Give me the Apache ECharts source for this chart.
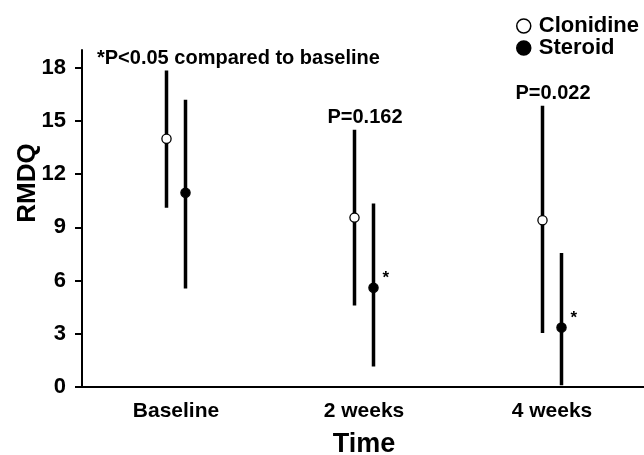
<!DOCTYPE html>
<html>
<head>
<meta charset="utf-8">
<script src="https://cdn.jsdelivr.net/npm/echarts@6/dist/echarts.min.js"></script>
<style>
html,body{margin:0;padding:0;background:#fff;}
#chart{width:644px;height:455px;}
</style>
</head>
<body>
<div id="chart"></div>
<script>
var categories = ['Baseline', '2 weeks', '4 weeks'];
var clonidineMean = [14.0, 9.55, 9.4];
var clonidineLow = [10.1, 4.6, 3.05];
var clonidineHigh = [17.85, 14.5, 15.85];
var steroidMean = [10.95, 5.6, 3.35];
var steroidLow = [5.55, 1.15, 0.1];
var steroidHigh = [16.2, 10.35, 7.55];
var steroidSig = ['', '*', '*'];
var pValues = ['', 'P=0.162', 'P=0.022'];
var yTicks = [0, 3, 6, 9, 12, 15, 18];

var FONT = '"Liberation Sans", Arial, sans-serif';

function makeData(mean, low, high, extra) {
  return categories.map(function (c, i) {
    return [i, mean[i], low[i], high[i], extra ? extra[i] : ''];
  });
}

function errorRender(offset, filled, labelMode) {
  return function (params, api) {
    var idx = api.value(0);
    var c = api.coord([idx, api.value(1)]);
    var lo = api.coord([idx, api.value(2)]);
    var hi = api.coord([idx, api.value(3)]);
    var x = c[0] + offset;
    var extra = api.value(4);
    var children = [
      { type: 'line', shape: { x1: x, y1: hi[1], x2: x, y2: lo[1] },
        style: { stroke: '#000', lineWidth: 3.5 } },
      { type: 'circle', shape: { cx: x, cy: c[1], r: 4.6 },
        style: { fill: filled ? '#000' : '#fff', stroke: '#000', lineWidth: 1.3 } }
    ];
    if (labelMode === 'sig' && extra) {
      children.push({ type: 'text', x: x + 9, y: c[1] - 9,
        style: { text: extra, font: 'bold 17px ' + FONT, fill: '#000', align: 'left', verticalAlign: 'middle' } });
    }
    if (labelMode === 'p' && extra) {
      children.push({ type: 'text', x: c[0] + 1, y: hi[1] - 12,
        style: { text: extra, font: 'bold 20px ' + FONT, fill: '#000', align: 'center', verticalAlign: 'middle' } });
    }
    return { type: 'group', children: children };
  };
}

var chart = echarts.init(document.getElementById('chart'), null, { renderer: 'canvas' });
chart.setOption({
  backgroundColor: '#fff',
  animation: false,
  grid: { left: 82, right: -2, top: 50, bottom: 68, containLabel: false, outerBoundsMode: 'none' },
  legend: {
    orient: 'vertical',
    left: 511, top: 10,
    itemWidth: 14, itemHeight: 14, itemGap: 0,
    textStyle: { fontFamily: FONT, fontWeight: 'bold', fontSize: 22, color: '#000', padding: [0,0,0,3] },
    data: [
      { name: 'Clonidine', icon: 'circle', itemStyle: { color: '#fff', borderColor: '#000', borderWidth: 1.5 } },
      { name: 'Steroid', icon: 'circle', itemStyle: { color: '#000', borderColor: '#000', borderWidth: 1.5 } }
    ]
  },
  graphic: [
    { type: 'text', left: 97, top: 48,
      style: { text: '*P<0.05 compared to baseline', font: 'bold 20px ' + FONT, fill: '#000' } },
    { type: 'text', x: 28, y: 183, rotation: Math.PI / 2,
      style: { text: 'RMDQ', font: 'bold 26px ' + FONT, fill: '#000', align: 'center', verticalAlign: 'middle' } }
  ],
  xAxis: {
    type: 'category', data: categories, boundaryGap: true,
    name: 'Time', nameLocation: 'middle', nameGap: 44,
    nameTextStyle: { fontFamily: FONT, fontWeight: 'bold', fontSize: 27, color: '#000' },
    axisLine: { lineStyle: { color: '#000', width: 2 } },
    axisTick: { show: false },
    axisLabel: { fontFamily: FONT, fontWeight: 'bold', fontSize: 21, color: '#000', margin: 14 },
    splitLine: { show: false }
  },
  yAxis: {
    type: 'value', min: 0, max: 19, interval: 3,
    axisLine: { show: true, lineStyle: { color: '#000', width: 2 } },
    axisTick: { show: true, inside: false, length: 7, lineStyle: { color: '#000', width: 2 }, customValues: yTicks },
    axisLabel: { fontFamily: FONT, fontWeight: 'bold', fontSize: 22, color: '#000', margin: 16, customValues: yTicks },
    splitLine: { show: false }
  },
  series: [
    { name: 'Clonidine', type: 'custom', renderItem: errorRender(-9.5, false, 'p'),
      encode: { x: 0, y: [1, 2, 3] }, data: makeData(clonidineMean, clonidineLow, clonidineHigh, pValues), z: 3 },
    { name: 'Steroid', type: 'custom', renderItem: errorRender(9.5, true, 'sig'),
      encode: { x: 0, y: [1, 2, 3] }, data: makeData(steroidMean, steroidLow, steroidHigh, steroidSig), z: 3 }
  ]
});
</script>
</body>
</html>
